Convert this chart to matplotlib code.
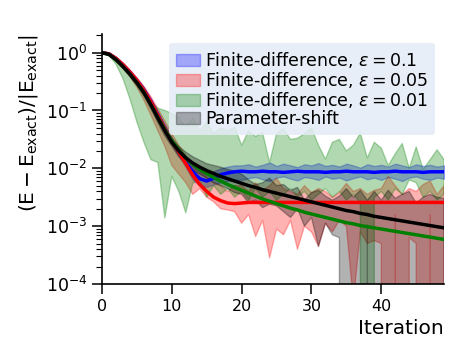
import numpy as np
import matplotlib
matplotlib.use('Agg')
import matplotlib.pyplot as plt

ninf = -np.inf
iterations = np.arange(50)

# all values below are log10 of the relative error
# (-inf = lower edge of the band is <= 0)

# parameter-shift (black)
ps_mean = [0.00, -0.03, -0.12, -0.24, -0.37, -0.52, -0.69, -0.90, -1.13, -1.35,
           -1.55, -1.70, -1.82, -1.91, -1.98, -2.04, -2.09, -2.14, -2.18, -2.22,
           -2.26, -2.30, -2.33, -2.37, -2.40, -2.43, -2.46, -2.49, -2.52, -2.55,
           -2.58, -2.61, -2.64, -2.67, -2.70, -2.73, -2.75, -2.78, -2.80, -2.83,
           -2.85, -2.87, -2.89, -2.91, -2.93, -2.95, -2.97, -2.99, -3.01, -3.03]
ps_low = [0.00, -0.04, -0.14, -0.27, -0.41, -0.57, -0.75, -0.97, -1.21, -1.44,
          -1.62, -1.80, -1.93, -2.03, -2.10, -2.17, -2.25, -2.30, -2.35, -2.42,
          -2.45, -2.60, -2.55, -2.68, -2.62, -2.65, -2.75, -2.85, -2.70, -3.00,
          -2.85, -3.35, -2.95, -3.15, -3.20, ninf, ninf, ninf, -2.98, ninf,
          ninf, ninf, ninf, ninf, ninf, ninf, ninf, ninf, ninf, ninf]
ps_high = [0.00, -0.02, -0.10, -0.21, -0.33, -0.47, -0.63, -0.83, -1.05, -1.27,
           -1.48, -1.62, -1.72, -1.80, -1.86, -1.92, -1.95, -1.98, -2.02, -2.05,
           -2.10, -2.20, -2.28, -2.25, -2.17, -2.30, -2.28, -2.38, -2.33, -2.55,
           -2.42, -2.38, -2.48, -2.55, -2.48, -2.35, -2.50, -2.38, -2.55, -2.40,
           -2.55, -2.38, -2.52, -2.45, -2.40, -2.60, -2.50, -2.45, -2.50, -2.52]

# finite difference, eps = 0.1 (blue)
fd1_mean = [0.00, -0.02, -0.10, -0.21, -0.34, -0.48, -0.64, -0.84, -1.07, -1.30,
            -1.52, -1.72, -1.90, -2.06, -2.18, -2.22, -2.17, -2.11, -2.08, -2.06,
            -2.05, -2.06, -2.06, -2.05, -2.06, -2.06, -2.07, -2.06, -2.05, -2.06,
            -2.06, -2.06, -2.07, -2.06, -2.06, -2.05, -2.06, -2.06, -2.06, -2.07,
            -2.06, -2.06, -2.05, -2.06, -2.06, -2.06, -2.07, -2.06, -2.06, -2.06]
fd1_low = [0.00, -0.03, -0.12, -0.23, -0.37, -0.51, -0.67, -0.87, -1.10, -1.33,
           -1.56, -1.78, -1.98, -2.20, -2.30, -2.32, -2.28, -2.24, -2.22, -2.20,
           -2.20, -2.17, -2.15, -2.19, -2.22, -2.16, -2.14, -2.18, -2.21, -2.15,
           -2.17, -2.20, -2.14, -2.18, -2.16, -2.21, -2.17, -2.14, -2.19, -2.16,
           -2.20, -2.15, -2.18, -2.22, -2.16, -2.14, -2.18, -2.20, -2.16, -2.18]
fd1_high = [0.00, -0.01, -0.08, -0.19, -0.31, -0.45, -0.61, -0.81, -1.04, -1.27,
            -1.48, -1.66, -1.82, -1.95, -2.05, -2.10, -2.05, -2.00, -1.97, -1.95,
            -1.95, -1.93, -1.97, -1.94, -1.90, -1.96, -1.92, -1.95, -1.98, -1.93,
            -1.95, -1.91, -1.96, -1.94, -1.97, -1.92, -1.95, -1.99, -1.93, -1.96,
            -1.94, -1.97, -1.92, -1.95, -1.98, -1.93, -1.96, -1.94, -1.97, -1.95]

# finite difference, eps = 0.05 (red)
fd05_mean = [0.00, -0.02, -0.10, -0.21, -0.34, -0.48, -0.65, -0.85, -1.08, -1.31,
             -1.52, -1.72, -1.92, -2.12, -2.28, -2.40, -2.50, -2.56, -2.60, -2.61,
             -2.60, -2.59, -2.59, -2.59, -2.59, -2.59, -2.59, -2.59, -2.59, -2.59,
             -2.59, -2.59, -2.59, -2.59, -2.59, -2.59, -2.59, -2.59, -2.59, -2.59,
             -2.59, -2.59, -2.59, -2.59, -2.59, -2.59, -2.59, -2.59, -2.59, -2.59]
fd05_low = [0.00, -0.04, -0.14, -0.27, -0.42, -0.60, -0.82, -1.08, -1.35, -1.62,
            -1.95, -2.10, -2.25, -2.45, -2.35, -2.50, -2.58, -2.70, -2.72, -2.75,
            -2.95, -2.80, -3.18, -2.90, -3.55, -3.05, -3.15, -2.90, -3.40, -3.00,
            -3.10, -3.35, -2.95, -3.10, -2.90, -3.00, -4.30, -3.10, -3.30, -3.25,
            -3.30, ninf, -2.80, ninf, -3.20, -3.30, ninf, -2.80, ninf, -3.00]
fd05_high = [0.00, -0.01, -0.07, -0.17, -0.29, -0.43, -0.58, -0.76, -0.97, -1.18,
             -1.40, -1.60, -1.78, -1.95, -2.05, -2.15, -2.25, -2.30, -2.40, -2.30,
             -2.30, -2.40, -2.25, -2.38, -2.30, -2.17, -2.35, -2.40, -2.45, -2.30,
             -2.42, -2.35, -2.40, -2.50, -2.42, -2.26, -2.40, -2.35, -2.45, -2.38,
             -2.35, -2.14, -2.30, -2.45, -2.35, -2.40, -2.28, -2.22, -2.45, -2.30]

# finite difference, eps = 0.01 (green)
fd01_mean = [0.00, -0.03, -0.12, -0.24, -0.37, -0.52, -0.69, -0.90, -1.12, -1.33,
             -1.52, -1.68, -1.82, -1.93, -2.02, -2.09, -2.16, -2.22, -2.28, -2.33,
             -2.38, -2.43, -2.48, -2.53, -2.57, -2.61, -2.65, -2.69, -2.72, -2.76,
             -2.79, -2.82, -2.85, -2.88, -2.91, -2.94, -2.96, -2.99, -3.01, -3.03,
             -3.05, -3.07, -3.09, -3.11, -3.13, -3.15, -3.17, -3.19, -3.21, -3.23]
fd01_low = [0.00, -0.05, -0.20, -0.45, -0.80, -1.20, -1.55, -1.85, -1.90, -2.86,
            -2.14, -2.40, -2.77, -2.26, -2.20, -2.50, -2.30, -2.45, -2.35, -2.50,
            -2.40, -2.55, -2.35, -2.50, -2.40, -2.55, -2.45, -2.35, -2.50, -2.40,
            -2.55, -2.45, -2.35, -2.50, -2.40, -2.55, -2.45, -2.60, ninf, -2.50,
            -2.40, -2.55, -2.35, -2.45, -2.20, -2.25, -2.50, -2.40, -2.55, -2.45]
fd01_high = [0.00, -0.02, -0.10, -0.22, -0.35, -0.50, -0.67, -0.86, -0.96, -1.00,
             -1.05, -1.12, -1.28, -1.13, -1.35, -1.20, -1.40, -1.30, -1.35, -1.29,
             -1.60, -1.35, -1.45, -1.38, -1.90, -1.40, -1.32, -1.50, -1.48, -1.40,
             -1.30, -1.60, -1.84, -1.55, -1.50, -1.70, -1.60, -1.39, -1.82, -1.55,
             -1.65, -1.95, -1.75, -1.57, -2.00, -1.63, -2.02, -1.85, -1.68, -1.85]

labels = [r'Finite-difference, $\varepsilon = 0.1$',
          r'Finite-difference, $\varepsilon = 0.05$',
          r'Finite-difference, $\varepsilon = 0.01$',
          'Parameter-shift']
colors = ['blue', 'red', 'green', 'black']


def to_val(exps):
    return np.power(10.0, np.asarray(exps, dtype=float))


series = [(fd1_mean, fd1_low, fd1_high),
          (fd05_mean, fd05_low, fd05_high),
          (fd01_mean, fd01_low, fd01_high),
          (ps_mean, ps_low, ps_high)]

fig = plt.figure(figsize=(4.68, 3.51), dpi=100)
ax = fig.add_axes([0.218, 0.191, 0.731, 0.712])

for (m, lo, hi), c, lab in zip(series, colors, labels):
    ax.fill_between(iterations, to_val(lo), to_val(hi), color=c, alpha=0.3,
                    linewidth=1, label=lab)
for (m, lo, hi), c in zip(series, colors):
    ax.plot(iterations, to_val(m), color=c, lw=2.5)

ax.set_yscale('log')
ax.set_xlim(0, 49)
ax.set_ylim(1e-4, 2.1)
ax.set_xticks([0, 10, 20, 30, 40])

for s in ['top', 'right']:
    ax.spines[s].set_visible(False)
for s in ['left', 'bottom']:
    ax.spines[s].set_linewidth(1.2)
ax.tick_params(which='major', length=7, width=1.1, labelsize=11.5)
ax.tick_params(axis='y', which='major', labelsize=12.5)
ax.tick_params(which='minor', length=4, width=0.8)

ax.set_xlabel('Iteration', fontsize=14.5, loc='right')
ax.set_ylabel(r'$(\mathrm{E}-\mathrm{E}_{\mathrm{exact}})/|\mathrm{E}_{\mathrm{exact}}|$',
              fontsize=14.5, loc='top')

leg = ax.legend(loc='upper right', fontsize=12.5, labelspacing=0.0,
                handlelength=1.4, handletextpad=0.3, borderpad=0.4,
                facecolor='#E5ECF6', framealpha=0.85, edgecolor='none',
                fancybox=True)

fig.savefig('out.png', dpi=100)
